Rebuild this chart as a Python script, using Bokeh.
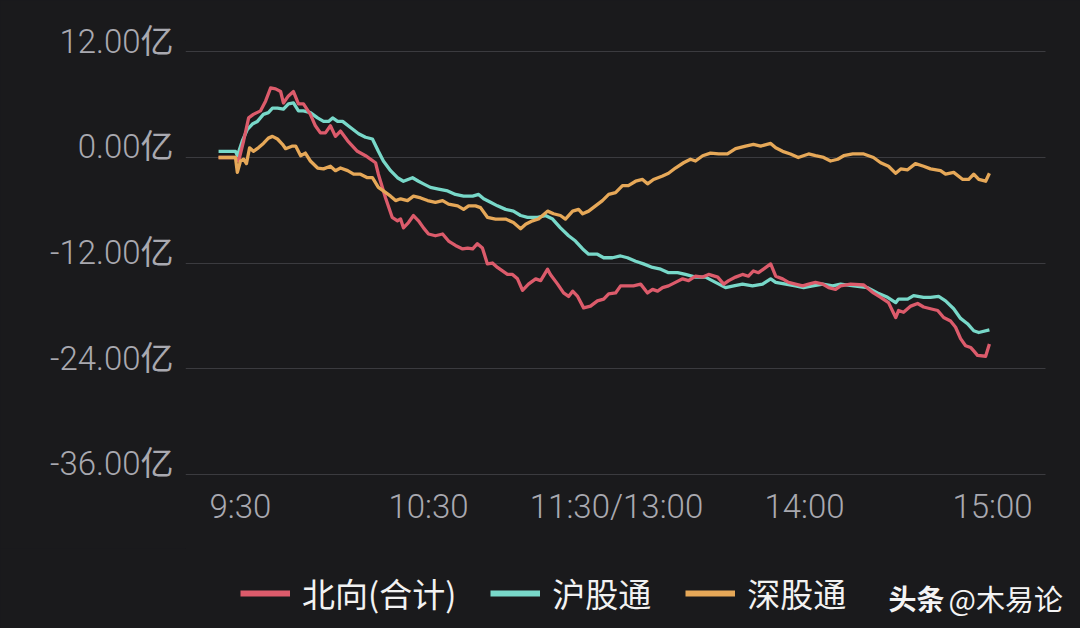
from bokeh.plotting import figure
from bokeh.layouts import column
from bokeh.models import (FixedTicker, Legend, LegendItem, Label, Range1d, LinearAxis)
from bokeh.embed import file_html
from bokeh.resources import INLINE

# ---- data (minutes after 9:30 on the trading clock, values in 亿) ----
north_t = [-7.0, -1.6, -0.6, 1.0, 2.6, 4.1, 6.4, 8.0, 9.6, 11.2, 12.8, 13.7, 15.3, 16.9, 18.5, 20.1,
           22.3, 23.9, 25.5, 27.1, 28.7, 30.3, 31.9, 34.2, 37.3, 39.9, 43.1, 44.0, 46.3, 48.4, 50.1,
           51.1, 52.0, 53.6, 55.2, 56.8, 58.4, 60.0, 62.2, 64.5, 66.4, 68.6, 70.9, 72.5, 74.1, 75.6,
           77.2, 78.8, 80.4, 82.0, 83.6, 85.2, 86.8, 88.4, 90.0, 91.9, 94.2, 95.8, 98.0, 98.9, 101.2,
           103.1, 104.7, 106.0, 107.6, 109.5, 111.7, 113.9, 115.9, 117.5, 119.7, 121.3, 123.5, 125.4,
           127.7, 129.9, 131.5, 133.1, 134.7, 136.6, 138.8, 141.1, 143.0, 145.2, 147.5, 149.4, 152.3,
           154.2, 155.8, 158.0, 160.2, 162.1, 163.7, 165.3, 166.9, 169.2, 170.8, 173.0, 174.9, 177.1,
           179.4, 181.3, 183.5, 185.8, 187.7, 189.9, 191.5, 194.7, 198.9, 202.0, 204.3, 206.8, 209.1,
           210.0, 211.6, 213.9, 216.1, 218.0, 220.2, 222.5, 224.4, 226.6, 228.2, 229.8, 231.4, 233.0,
           234.0, 235.2, 237.8, 239.0]
north_v = [0.0, 0.0, -0.4, 1.9, 4.5, 4.9, 5.3, 6.4, 7.9, 7.8, 7.5, 6.2, 7.0, 7.5, 6.1, 6.1,
           4.9, 3.6, 2.8, 2.8, 3.6, 2.4, 3.0, 1.9, 0.7, 0.2, -0.6, -1.9, -4.6, -6.8, -7.2,
           -7.0, -8.0, -7.4, -6.6, -7.2, -8.0, -8.7, -8.9, -8.7, -9.5, -10.0, -10.4, -10.3, -10.4, -9.8,
           -10.3, -12.1, -12.0, -12.5, -12.9, -13.3, -13.3, -13.8, -15.1, -14.4, -13.8, -14.0, -12.7, -13.3, -14.4,
           -15.4, -15.8, -15.2, -15.8, -17.1, -16.9, -16.3, -16.1, -15.5, -15.4, -14.6, -14.6, -14.6,
           -14.4, -15.4, -15.0, -15.2, -14.8, -14.6, -14.2, -13.8, -14.0, -13.5, -13.6, -13.3, -13.6,
           -14.4, -14.0, -13.6, -13.3, -13.5, -12.9, -13.1, -12.7, -12.1, -13.5, -13.8, -14.2, -14.4,
           -14.6, -14.4, -14.2, -14.4, -14.8, -15.0, -14.6, -14.4, -14.5, -15.4, -15.9, -16.5, -18.2,
           -17.4, -17.6, -16.9, -16.6, -17.0, -17.2, -17.4, -18.2, -18.6, -19.3, -20.6, -21.4, -21.6,
           -22.0, -22.5, -22.6, -21.2]

sh_t = [-7.0, -1.6, -1.0, 0.6, 2.2, 3.8, 5.4, 7.3, 8.9, 10.2, 11.8, 13.7, 15.3, 16.9, 18.5, 20.1,
        22.3, 24.6, 26.5, 28.1, 29.4, 31.0, 32.6, 35.1, 37.7, 39.9, 42.1, 44.0, 45.6, 47.9, 50.1,
        52.0, 54.9, 56.8, 58.4, 60.6, 63.2, 66.1, 68.6, 71.2, 74.1, 76.0, 77.6, 79.8, 82.0, 84.6,
        87.1, 89.4, 91.6, 94.8, 97.3, 99.6, 102.1, 104.7, 106.9, 109.2, 111.1, 113.9, 115.9, 118.7,
        121.3, 123.5, 126.1, 128.6, 131.5, 134.1, 136.6, 139.5, 142.0, 145.2, 148.4, 151.6, 154.8,
        157.4, 160.2, 163.4, 166.6, 169.2, 170.8, 174.0, 177.1, 179.7, 182.6, 185.8, 189.0, 191.5,
        195.7, 200.1, 203.3, 206.5, 209.1, 210.0, 212.9, 214.8, 218.0, 220.2, 222.8, 225.0, 227.6,
        229.8, 232.0, 234.0, 235.6, 239.0]
sh_v = [0.7, 0.7, 0.2, 1.9, 3.2, 3.8, 4.1, 4.9, 5.1, 5.6, 5.6, 5.5, 6.1, 6.2, 5.3, 5.3,
        5.1, 4.5, 4.1, 4.1, 4.5, 4.1, 4.1, 3.4, 2.7, 2.3, 2.1, 0.7, -0.4, -1.5, -2.3,
        -2.7, -2.3, -2.7, -3.0, -3.4, -3.6, -3.8, -4.2, -4.4, -4.4, -4.2, -4.7, -5.1, -5.5, -5.9,
        -6.1, -6.6, -6.8, -6.8, -6.6, -7.0, -8.0, -8.9, -9.5, -10.4, -11.0, -11.0, -11.4, -11.4,
        -11.2, -11.4, -11.8, -12.1, -12.5, -12.7, -13.1, -13.1, -13.3, -13.6, -13.6, -14.2, -14.8,
        -14.6, -14.4, -14.6, -14.4, -13.8, -14.2, -14.4, -14.6, -14.8, -14.6, -14.4, -14.6, -14.4,
        -14.6, -14.8, -15.4, -15.9, -16.5, -16.1, -16.1, -15.7, -15.9, -15.9, -15.8, -16.3, -17.2,
        -18.3, -18.9, -19.7, -19.9, -19.6]

sz_t = [-7.0, -1.6, -1.0, 0.0, 1.0, 1.9, 2.9, 4.1, 5.7, 7.3, 8.9, 10.2, 11.8, 13.4, 14.4, 16.6,
        17.6, 19.2, 20.7, 22.3, 24.6, 26.5, 28.7, 30.3, 31.9, 34.2, 36.1, 38.3, 40.5, 42.1, 44.0,
        45.6, 47.9, 49.5, 51.1, 53.3, 55.2, 57.5, 59.7, 62.2, 64.5, 66.4, 69.3, 71.2, 72.8, 75.0,
        76.6, 78.8, 81.4, 84.6, 87.1, 89.4, 91.0, 93.2, 95.1, 98.0, 99.9, 102.1, 103.7, 106.0,
        107.9, 109.2, 111.1, 113.3, 115.5, 117.5, 119.7, 121.9, 123.8, 126.1, 128.3, 129.9, 131.8,
        134.7, 136.6, 138.8, 141.4, 143.6, 145.2, 147.5, 150.0, 152.6, 155.4, 158.0, 161.2, 163.7,
        166.0, 169.2, 170.8, 173.0, 175.5, 178.0, 181.3, 183.5, 186.1, 188.3, 190.6, 192.5, 195.4,
        198.9, 202.0, 204.3, 206.8, 209.1, 210.7, 212.9, 215.4, 218.0, 220.2, 223.4, 225.0, 227.6,
        230.5, 232.4, 234.0, 235.6, 237.8, 239.0]
sz_v = [0.0, 0.0, -1.7, -0.4, -0.2, -0.7, 1.1, 0.7, 1.1, 1.6, 2.2, 2.4, 2.1, 1.5, 1.0, 1.3,
        1.3, 0.2, 0.5, -0.4, -1.2, -1.3, -1.0, -1.5, -1.2, -1.5, -1.9, -1.9, -2.3, -2.3, -3.4,
        -3.8, -4.4, -4.9, -4.7, -4.9, -4.4, -4.6, -4.9, -5.1, -4.9, -5.3, -5.5, -5.9, -5.5, -5.5,
        -5.7, -6.8, -7.0, -7.0, -7.4, -8.1, -7.6, -7.2, -7.0, -6.1, -6.4, -6.6, -7.0, -6.1,
        -5.9, -6.4, -6.1, -5.5, -4.9, -4.2, -4.0, -3.2, -3.2, -2.7, -2.5, -3.0, -2.5,
        -2.1, -1.8, -1.2, -0.6, -0.2, -0.4, 0.2, 0.5, 0.4, 0.4, 1.0, 1.3, 1.5,
        1.3, 1.6, 1.1, 0.7, 0.4, 0.0, 0.4, 0.2, 0.0, -0.4, -0.2, 0.2, 0.4,
        0.4, 0.0, -0.6, -1.0, -1.8, -1.3, -1.4, -0.7, -1.0, -1.3, -1.5, -1.9, -1.7,
        -2.5, -2.5, -1.9, -2.5, -2.7, -1.8]

series_names = ["北向(合计)", "沪股通", "深股通"]
x_ticks = [0, 60, 120, 180, 240]
x_labels = ["9:30", "10:30", "11:30/13:00", "14:00", "15:00"]
y_ticks = [12, 0, -12, -24, -36]
y_labels = ["12.00亿", "0.00亿", "-12.00亿", "-24.00亿", "-36.00亿"]
watermark = ["头条", "@木易论"]

BG = "#1a1a1c"
RED = "#dc5b6b"
CYAN = "#78d8c9"
ORANGE = "#e6a858"
AXFONT = "Roboto Light, Roboto, Noto Sans CJK SC, sans-serif"
LBL_SHIFT = 1.2          # y-labels sit just above their grid lines
X_START, X_GRID_END, X_END = -17.55, 256.95, 268.07

p = figure(width=1080, height=548, output_backend="svg", toolbar_location=None,
           x_range=Range1d(X_START, X_END), y_range=Range1d(-36.5, 13.3),
           background_fill_color=BG, border_fill_color=BG, outline_line_color=None,
           min_border_left=185, min_border_right=0, min_border_top=40, min_border_bottom=70)
p.extra_y_ranges = {"lbl": Range1d(-36.5 - LBL_SHIFT, 13.3 - LBL_SHIFT)}

r_sh = p.line(sh_t, sh_v, line_color=CYAN, line_width=3.3, line_join="round")
r_n = p.line(north_t, north_v, line_color=RED, line_width=3.3, line_join="round")
r_sz = p.line(sz_t, sz_v, line_color=ORANGE, line_width=3.3, line_join="round")

# axes
p.yaxis.visible = False
yax = LinearAxis(y_range_name="lbl", ticker=FixedTicker(ticks=y_ticks),
                 major_label_overrides=dict(zip(y_ticks, y_labels)))
p.add_layout(yax, "left")
p.xaxis.ticker = FixedTicker(ticks=x_ticks)
p.xaxis.major_label_overrides = dict(zip(x_ticks, x_labels))
for ax in (p.xaxis[0], yax):
    ax.axis_line_color = None
    ax.major_tick_line_color = None
    ax.minor_tick_line_color = None
    ax.major_tick_out = 0
    ax.major_tick_in = 0
    ax.minor_tick_out = 0
    ax.major_label_text_color = "#a9a9b0"
    ax.major_label_text_font = AXFONT
    ax.major_label_text_font_size = "33px"
yax.major_label_standoff = 12
p.xaxis.major_label_standoff = 8

p.xgrid.grid_line_color = None
p.ygrid.ticker = FixedTicker(ticks=y_ticks)
p.ygrid.grid_line_color = "#3b3b3f"
p.ygrid.grid_line_width = 1
p.ygrid.cross_bounds = (X_START, X_GRID_END)

# legend strip below the chart (its frame is aligned with the chart frame, left edge at 185px)
q = figure(width=1080, height=80, output_backend="svg", toolbar_location=None,
           x_range=Range1d(0, 1), y_range=Range1d(0, 1), x_axis_type=None, y_axis_type=None,
           background_fill_color=BG, border_fill_color=BG, outline_line_color=None, min_border=0)
# legend sample renderers, kept outside the visible range of the strip
d1 = q.line([5, 6], [5, 6], line_color=RED, line_width=6)
d2 = q.line([5, 6], [5, 6], line_color=CYAN, line_width=6)
d3 = q.line([5, 6], [5, 6], line_color=ORANGE, line_width=6)
legend = Legend(items=[LegendItem(label=series_names[0], renderers=[d1]),
                       LegendItem(label=series_names[1], renderers=[d2]),
                       LegendItem(label=series_names[2], renderers=[d3])],
                orientation="horizontal", location=(55, 11),
                glyph_width=50, glyph_height=40, label_height=40, label_standoff=12,
                spacing=34, padding=0, margin=0,
                background_fill_alpha=0, border_line_alpha=0,
                label_text_font="Noto Sans CJK SC", label_text_font_size="33px",
                label_text_color="#f2f2f2")
q.add_layout(legend, "center")
q.add_layout(Label(x=703, y=31, x_units="screen", y_units="screen", text=watermark[0],
                   text_font="Noto Sans CJK SC", text_font_style="bold", text_font_size="28px",
                   text_color="#f4f4f4", text_baseline="middle"))
q.add_layout(Label(x=763, y=31, x_units="screen", y_units="screen", text=watermark[1],
                   text_font="Noto Sans CJK SC", text_font_size="29px",
                   text_color="#f4f4f4", text_baseline="middle"))

layout = column(p, q, spacing=0)
html = file_html(layout, INLINE, title="北向资金")
html = html.replace("</head>", "<style>html,body{background:#1a1a1c}</style></head>", 1)
open("out.html", "w").write(html)
